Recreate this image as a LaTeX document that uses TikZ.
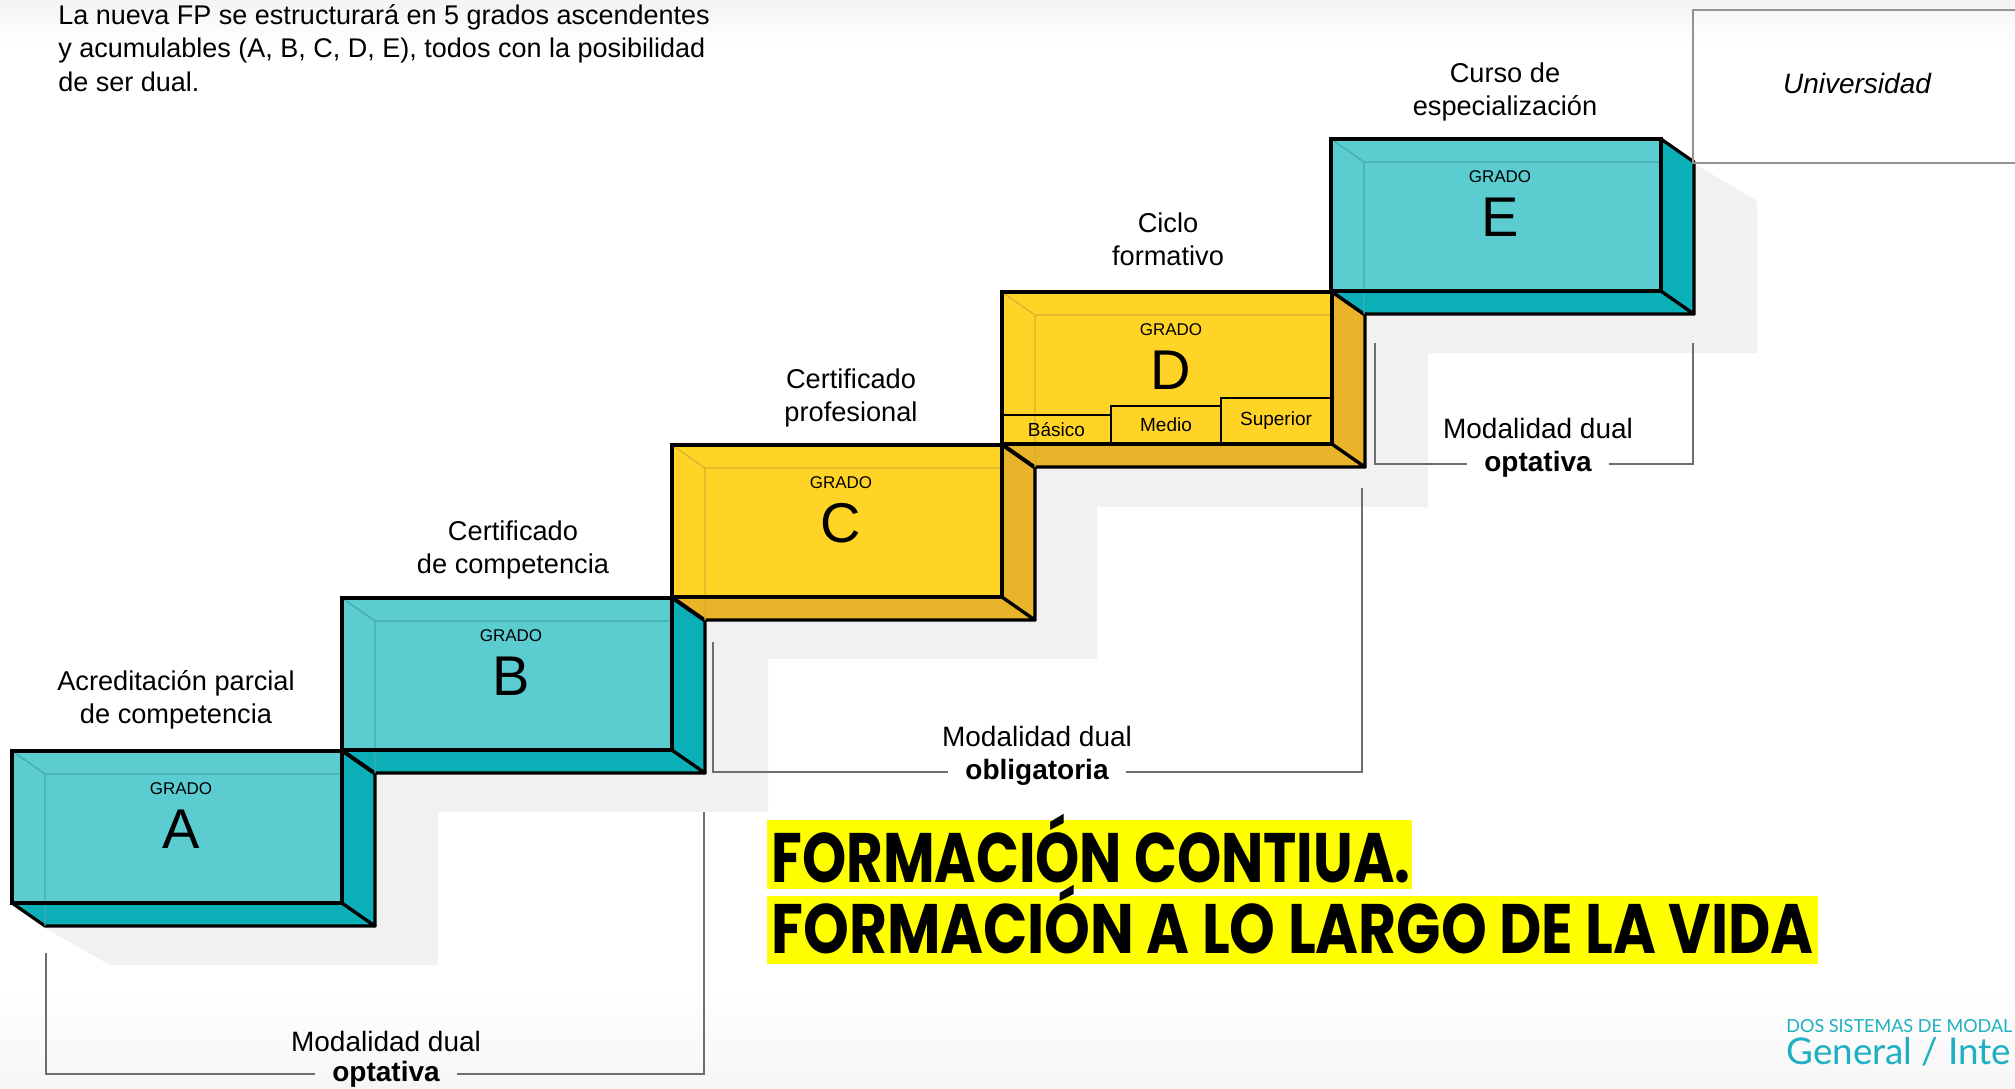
\documentclass[tikz,border=0pt]{standalone}
\usepackage{fontspec}
\setmainfont{Liberation Sans}
\newfontfamily\bigfont{Poppins}
\newfontfamily\footfont{Lato}
\usepackage{graphicx}
\definecolor{tealF}{HTML}{5BCCD0}
\definecolor{tealD}{HTML}{0BAFB8}
\definecolor{bevT}{HTML}{44AAAE}
\definecolor{yelF}{HTML}{FFD426}
\definecolor{yelD}{HTML}{E9B32A}
\definecolor{bevY}{HTML}{D6B12C}
\definecolor{shadowG}{HTML}{F1F1F1}
\definecolor{brk}{HTML}{6E6E6E}
\definecolor{hl}{HTML}{FFFF00}
\definecolor{foot}{HTML}{1DB0C0}
\tikzset{
  boxfront/.style={draw=black, line width=1.6pt, minimum width=165pt, minimum height=76pt, inner sep=0pt, outer sep=0pt},
  face/.style={draw=black, line width=1.6pt, line join=round},
  grado/.style={inner sep=0pt, font=\fontsize{8.5}{10}\selectfont},
  letra/.style={inner sep=0pt, font=\fontsize{28}{30}\selectfont},
  titulo/.style={inner sep=0pt, align=center, font=\fontsize{13.6}{16.6}\selectfont},
  subbox/.style={draw=black, line width=0.8pt, anchor=south west, inner sep=0pt, outer sep=0pt, font=\fontsize{9.5}{11}\selectfont},
  brkline/.style={draw=brk, line width=0.8pt},
  duall/.style={inner sep=0pt, font=\fontsize{14}{16}\selectfont},
  dualb/.style={inner ysep=0pt, inner xsep=8.5pt, font=\fontsize{14}{16}\selectfont\bfseries},
  frameline/.style={draw=gray!85, line width=0.7pt},
}
\newcommand\stepbox[9]{%
  \node[boxfront, fill=#4, anchor=north west] (#1) at (#2,#3) {};
  \path[face, fill=#5] (#1.south west) -- ([shift={(33,23)}]#1.south west) -- ([shift={(33,23)}]#1.south east) -- (#1.south east) -- cycle;
  \path[face, fill=#5] (#1.north east) -- ([shift={(33,23)}]#1.north east) -- ([shift={(33,23)}]#1.south east) -- (#1.south east) -- cycle;
  \draw[#6, line width=0.6pt] (#1.north west) -- ([shift={(33,23)}]#1.north west) -- ([shift={(0,23)}]#1.north east)
       ([shift={(33,23)}]#1.north west) -- ([shift={(33,23)}]#1.south west);
  \draw[line width=1.6pt] (#1.north west) rectangle (#1.south east);
  \node[grado] (g#1) at ([shift={(169,38)}]#1.north west) {GRADO};
  \node[letra] (l#1) at ([shift={(169,78)}]#1.north west) {#7};
  \node[titulo] (t#1) at ([shift={(#9)}]#1.north west) {#8};
}
\begin{document}
\begin{tikzpicture}[x=0.5pt,y=-0.5pt]
\useasboundingbox (0,0) rectangle (2015,1088);
\fill[white] (0,0) rectangle (2015,1088);
\shade[top color=gray!9, bottom color=white] (0,0) rectangle (2015,45);
\shade[top color=white, bottom color=gray!7] (0,990) rectangle (2015,1088);

% shadow staircase
\fill[shadowG] (45,928) -- (110,965) -- (438,965) -- (438,812) -- (768,812) -- (768,659)
  -- (1097,659) -- (1097,507) -- (1428,507) -- (1428,353) -- (1757,353) -- (1757,201)
  -- (1693,163) -- (1693,316) -- (1364,316) -- (1364,468) -- (1035,468) -- (1035,621)
  -- (705,621) -- (705,774) -- (375,774) -- (375,928) -- cycle;

% header
\node[anchor=north west, align=left, inner sep=0pt, font=\fontsize{13.5}{16.8}\selectfont] (hdr) at (58,4)
  {La nueva FP se estructurará en 5 grados ascendentes\\y acumulables (A, B, C, D, E), todos con la posibilidad\\de ser dual.};

% steps
\stepbox{A}{12}{751}{tealF}{tealD}{bevT}{A}{Acreditación parcial\\de competencia}{164,-51}
\stepbox{B}{342}{598}{tealF}{tealD}{bevT}{B}{Certificado\\de competencia}{171,-48}
\stepbox{C}{672}{445}{yelF}{yelD}{bevY}{C}{Certificado\\profesional}{179,-47}
\stepbox{D}{1002}{292}{yelF}{yelD}{bevY}{D}{Ciclo\\formativo}{166,-53}
\stepbox{E}{1331}{139}{tealF}{tealD}{bevT}{E}{Curso de\\especialización}{174,-47}

% D levels
\node[subbox, minimum width=54.5pt, minimum height=14.5pt] (basico) at (D.south west) {Básico};
\node[subbox, minimum width=55pt, minimum height=19pt] (medio) at (basico.south east) {Medio};
\node[subbox, minimum width=55pt, minimum height=23pt] (superior) at (medio.south east) {Superior};
\draw[line width=1.6pt] (D.north west) rectangle (D.south east);

% bracket: optativa (A-B)
\coordinate (bA1) at (46,953);
\coordinate (bA2) at (704,812);
\node[duall] (mA) at (386,1041) {Modalidad dual};
\node[dualb] (oA) at (386,1074) {optativa};
\draw[brkline] (bA1) |- (oA.west);
\draw[brkline] (oA.east) -| (bA2);

% bracket: obligatoria (B-D)
\coordinate (bC1) at (713,642);
\coordinate (bC2) at (1362,488);
\node[duall] (mC) at (1037,736) {Modalidad dual};
\node[dualb] (oC) at (1037,772) {obligatoria};
\draw[brkline] (bC1) |- (oC.west);
\draw[brkline] (oC.east) -| (bC2);

% bracket: optativa (E)
\coordinate (bE1) at (1375,343);
\coordinate (bE2) at (1693,343);
\node[duall] (mE) at (1538,428) {Modalidad dual};
\node[dualb] (oE) at (1538,464) {optativa};
\draw[brkline] (bE1) |- (oE.west);
\draw[brkline] (oE.east) -| (bE2);

% Universidad frame
\coordinate (uTR) at (2015,10);
\coordinate (uTL) at (1693,10);
\coordinate (uBL) at (1693,163);
\coordinate (uBR) at (2015,163);
\draw[frameline] (uTR) -- (uTL) -- (uBL) -- (uBR);
\node[inner sep=0pt, font=\fontsize{14}{16}\selectfont\itshape] (uni) at (1857,83) {Universidad};

% highlighted slogan
\fill[hl] (767,820) rectangle (1412,889);
\fill[hl] (767,896) rectangle (1818,964);
\node[anchor=base west, inner sep=0pt] (s1) at (771,882)
  {\resizebox{319.5pt}{\height}{\bigfont\bfseries\fontsize{35}{36}\selectfont FORMACIÓN CONTIUA.}};
\node[anchor=base west, inner sep=0pt] (s2) at (771,953)
  {\resizebox{521pt}{\height}{\bigfont\bfseries\fontsize{35}{36}\selectfont FORMACIÓN A LO LARGO DE LA VIDA}};

% footer
\node[anchor=base west, inner sep=0pt, text=foot, font=\footfont\fontsize{9.0}{11}\selectfont] (f1) at (1786,1032) {DOS SISTEMAS DE MODAL};
\node[anchor=base west, inner sep=0pt, text=foot, font=\footfont\fontsize{18.4}{22}\selectfont] (f2) at (1786,1064) {General / Inte};
\end{tikzpicture}
\end{document}
